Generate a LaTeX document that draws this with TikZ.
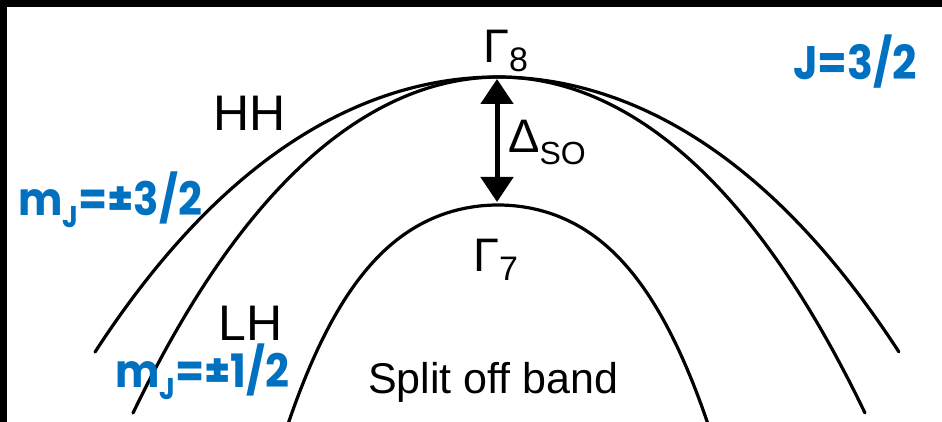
\documentclass[tikz,border=0pt]{standalone}
\usepackage{fontspec}
\setmainfont{Liberation Sans}
\newfontfamily\bluef{Poppins}
\usetikzlibrary{arrows.meta}
\definecolor{lblblue}{RGB}{0,112,192}
\newcommand\fsz[1]{\fontsize{#1}{#1}\selectfont}
\newcommand\sbx[2]{\raisebox{-#1pt}{\fsz{34}#2}}
\newcommand\narrow[1]{\scalebox{0.91}[1]{#1}}
\tikzset{
  band/.style={line width=3.2pt, line cap=round},
  lbl/.style={inner sep=0pt, anchor=base west, text=black, font=\fsz{48}},
  bluelbl/.style={inner sep=0pt, anchor=base west, text=lblblue, font=\bluef\bfseries\fsz{46}},
}
\begin{document}
\begin{tikzpicture}[x=1pt,y=-1pt]
\useasboundingbox (0,0) rectangle (942,422);
\fill[white] (0,0) rectangle (942,422);
\fill[black] (0,0) rectangle (942,7);
\fill[black] (0,0) rectangle (7,422);
\begin{scope}
\clip (7,7) rectangle (942,422);
% HH band
\draw[band] plot[domain=-4.02:4.02, samples=120, smooth] ({497+100*\x},{77+14.91*\x*\x+0.1306*\x*\x*\x*\x});
% LH band
\draw[band] plot[domain=-3.66:3.66, samples=120, smooth] ({499+100*\x},{77+21.79*\x*\x+0.246*\x*\x*\x*\x});
% split-off band
\draw[band] plot[domain=-2.2:2.2, samples=120, smooth] ({498+100*\x},{205+29.4*\x*\x+4.6*\x*\x*\x*\x});
\end{scope}
\coordinate (g8top) at (497,79);
\coordinate (g7top) at (497,202);
\draw[line width=5pt, {Triangle[width=32pt,length=25pt]}-{Triangle[width=32pt,length=25pt]}] (g8top) -- (g7top);
% labels
\node[lbl, font=\fsz{47}] (g8) at (483,63) {Γ\sbx{9}{8}};
\node[lbl, font=\fsz{47}] (dso) at (508,153) {Δ\raisebox{-12pt}{\fsz{32}SO}};
\node[lbl, font=\fsz{47}] (g7) at (473,271) {Γ\sbx{9}{7}};
\node[lbl, font=\fsz{50}] (hh) at (213,131) {HH};
\node[lbl, font=\fsz{50}] (lh) at (218,340) {LH};
\node[lbl, font=\fsz{43}] (sob) at (368,393) {Split off band};
\node[bluelbl] (mj3) at (18,215) {\narrow{m\raisebox{-12pt}{\fsz{30}J}=±3/2}};
\node[bluelbl] (mj1) at (115,387) {\narrow{m\raisebox{-12pt}{\fsz{30}J}=±1/2}};
\node[bluelbl, font=\bluef\bfseries\fsz{47}] (j32) at (793,80) {\narrow{J=3/2}};
\end{tikzpicture}
\end{document}
